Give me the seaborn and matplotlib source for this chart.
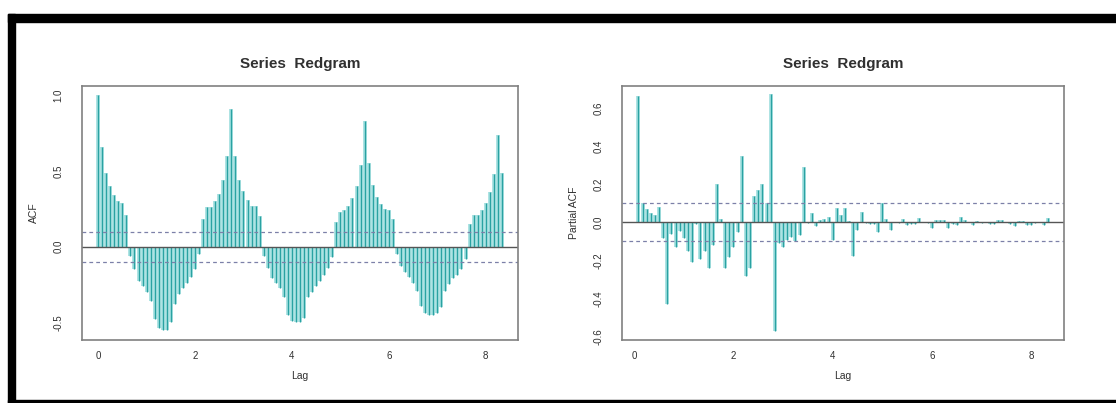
import numpy as np
import matplotlib
matplotlib.use("Agg")
import matplotlib.pyplot as plt
from matplotlib.patches import Rectangle
import seaborn as sns

# Series sampled 12 times per lag unit
FREQ = 12
conf_limit = 0.1

# ACF of Redgram, lags 0..100
acf_values = [
    1.00, 0.66, 0.49, 0.40, 0.34, 0.30, 0.29, 0.21,
    -0.06, -0.15, -0.23, -0.26, -0.30, -0.36, -0.48, -0.54, -0.55,
    -0.55, -0.50, -0.38, -0.31, -0.27, -0.24, -0.20, -0.15, -0.05,
    0.18, 0.26, 0.26, 0.30, 0.35, 0.44, 0.60, 0.91, 0.60, 0.44, 0.37,
    0.31, 0.27, 0.27, 0.20,
    -0.06, -0.14, -0.21, -0.24, -0.27, -0.33, -0.45, -0.49, -0.50,
    -0.50, -0.47, -0.33, -0.30, -0.26, -0.23, -0.19, -0.14, -0.07,
    0.16, 0.23, 0.24, 0.27, 0.32, 0.40, 0.54, 0.83, 0.55, 0.41, 0.33,
    0.28, 0.25, 0.24, 0.18,
    -0.05, -0.13, -0.17, -0.20, -0.24, -0.29, -0.39, -0.44, -0.45,
    -0.45, -0.44, -0.40, -0.29, -0.25, -0.21, -0.19, -0.15, -0.08,
    0.15, 0.21, 0.21, 0.24, 0.29, 0.36, 0.48, 0.74, 0.49,
]

# PACF of Redgram, lags 1..100
pacf_values = [
    0.66, 0.10, 0.07, 0.05, 0.04, 0.08, -0.08, -0.43, -0.06, -0.13,
    -0.045, -0.08, -0.15, -0.21, -0.01, -0.19, -0.15, -0.24, -0.12, 0.20,
    0.02, -0.24, -0.18, -0.13, -0.05, 0.35, -0.28, -0.24, 0.14, 0.17,
    0.20, 0.10, 0.67, -0.57, -0.11, -0.13, -0.09, -0.075, -0.10, -0.065,
    0.29, -0.005, 0.05, -0.02, 0.01, 0.02, 0.03, -0.09, 0.073, 0.04,
    0.077, 0.005, -0.176, -0.04, 0.052, -0.005, -0.01, -0.01, -0.05, 0.10,
    0.02, -0.04, 0.003, -0.003, 0.02, -0.012, -0.01, -0.01, 0.025, 0.003,
    -0.003, -0.03, 0.01, 0.01, 0.01, -0.03, -0.01, -0.015, 0.03, 0.012,
    0.003, -0.012, 0.005, -0.003, 0.003, -0.01, -0.01, 0.01, 0.01, 0.003,
    -0.01, -0.02, 0.005, 0.005, -0.012, -0.012, -0.005, 0.003, -0.012, 0.025,
]

acf_lags = np.arange(len(acf_values)) / FREQ
pacf_lags = np.arange(1, len(pacf_values) + 1) / FREQ

sns.set_style("white")
plt.rcParams['font.family'] = ['Liberation Sans', 'DejaVu Sans']

BAR_LINE = '#2aa2a2'
BAR_FILL = '#a3e0e0'
CI_COLOR = '#7c80a8'
FRAME = '#808080'
TEXT = '#303030'

fig = plt.figure(figsize=(11.16, 4.03), dpi=100)
W, H = 1116, 403


def px_axes(x0, y0, x1, y1):
    return fig.add_axes([x0 / W, 1 - y1 / H, (x1 - x0) / W, (y1 - y0) / H])


def corr_panel(ax, lags, vals, ylabel, yticks, ylim, xlim):
    ax.vlines(lags, 0, vals, color=BAR_FILL, lw=2.7)
    ax.vlines(lags, 0, vals, color=BAR_LINE, lw=0.95)
    ax.axhline(0, color='#555555', lw=1.0)
    for c in (conf_limit, -conf_limit):
        ax.axhline(c, color=CI_COLOR, lw=0.9, ls=(0, (3, 2.5)))
    ax.set_xlim(*xlim)
    ax.set_ylim(*ylim)
    ax.set_xticks([0, 2, 4, 6, 8])
    ax.set_yticks(yticks)
    ax.set_yticklabels([f"{t:.1f}" for t in yticks], rotation=90, va='center')
    ax.tick_params(axis='both', direction='out', length=4.5, width=0.9,
                   color=FRAME, labelcolor=TEXT, labelsize=7)
    ax.tick_params(axis='x', pad=3.5)
    ax.tick_params(axis='y', pad=9)
    for s in ax.spines.values():
        s.set_color(FRAME)
        s.set_linewidth(1.2)
        s.set_visible(True)
    ax.set_title("Series  Redgram", fontsize=11, fontweight='bold',
                 color=TEXT, pad=13)
    ax.set_xlabel("Lag", fontsize=7.5, color=TEXT, labelpad=7)
    ax.set_ylabel(ylabel, fontsize=7.5, color=TEXT, labelpad=10)


ax1 = px_axes(82, 86, 518, 340)
corr_panel(ax1, acf_lags, acf_values, "ACF", [-0.5, 0.0, 0.5, 1.0],
           (-0.617, 1.062), (-0.333, 8.667))

ax2 = px_axes(622, 86, 1064, 340)
corr_panel(ax2, pacf_lags, pacf_values, "Partial ACF",
           [-0.6, -0.4, -0.2, 0.0, 0.2, 0.4, 0.6],
           (-0.616, 0.714), (-0.247, 8.663))

# black frame around the screenshot
for (x, y, w, h) in [(8, 14, W - 8, 8), (8, 14, 7, H - 14), (8, 400, W - 8, 3)]:
    fig.patches.append(Rectangle((x / W, 1 - (y + h) / H), w / W, h / H,
                                 transform=fig.transFigure, color='black',
                                 zorder=10))

fig.savefig("out.png", dpi=100)
